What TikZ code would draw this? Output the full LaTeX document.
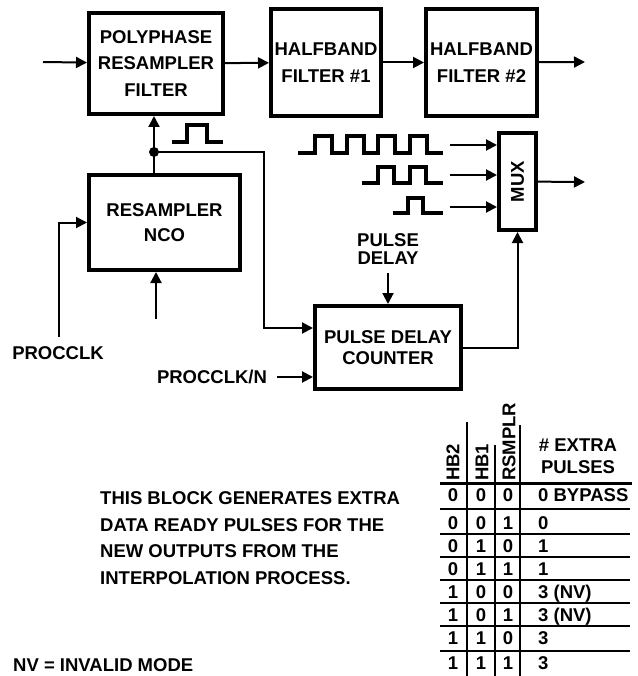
\documentclass[tikz,border=0pt]{standalone}
\usepackage{fontspec}
\setmainfont{Liberation Sans}
\usetikzlibrary{arrows.meta}

\begin{document}
\begin{tikzpicture}[x=1pt, y=-1pt,
        every node/.style={font=\fontsize{18.5}{26.5}\selectfont\bfseries, inner sep=0pt},
        block/.style={shape=rectangle, draw=black, line width=4pt, align=center},
        wire/.style={line width=2pt},
        arr/.style={wire, -{Triangle[length=11pt, width=11pt]}},
        wave/.style={line width=3.5pt, line join=miter},
        rule/.style={line width=1.5pt}]
        \useasboundingbox (0,0) rectangle (637,676);

        \node[block, minimum width=134pt, minimum height=101pt] (poly) at (156,63.5) {POLYPHASE\\RESAMPLER\\FILTER};
        \node[block, minimum width=110pt, minimum height=107pt] (hb1) at (326,62.5) {HALFBAND\\FILTER \#1};
        \node[block, minimum width=111pt, minimum height=107pt] (hb2) at (481.5,62.5) {HALFBAND\\FILTER \#2};
        \node[block, minimum width=151pt, minimum height=95pt] (nco) at (164.5,222.5) {RESAMPLER\\[-1pt]NCO};
        \node[block, minimum width=146pt, minimum height=83pt] (pdc) at (388,347.5) {PULSE DELAY\\[-5pt]COUNTER};
        \node[block, minimum width=37pt, minimum height=97pt] (mux) at (517.5,181.5) {\rotatebox{90}{MUX}};

        \node (pclk) at (58,353) {PROCCLK};
        \node (pclkn) at (212,377) {PROCCLK/N};
        \node[align=center] (pdelay) at (388,249) {PULSE\\[-8pt]DELAY};

        \coordinate (in) at (43,62);
        \coordinate (out) at (585,62);
        \coordinate (muxout) at (585,182);
        \coordinate (tap) at (154,152);
        \coordinate (bend) at (264,328);
        \coordinate (ncoin) at (156,319);
        \coordinate (clkin) at (59,337);
        \coordinate (clknin) at (277,377);
        \coordinate (pdin) at (388,273);
        \coordinate (w1) at (450,145);
        \coordinate (w2) at (450,175);
        \coordinate (w3) at (450,207);

        \draw[arr] (in) -- (poly);
        \draw[arr] (poly) -- (hb1);
        \draw[arr] (hb1) -- (hb2);
        \draw[arr] (hb2) -- (out);
        \draw[arr] (mux) -- (muxout);

        \draw[wire] (tap |- nco.north) -- (tap);
        \draw[arr] (tap) -- (tap |- poly.south);
        \fill (tap) circle[radius=5];
        \draw[arr] (tap) -| (bend) -- (bend -| pdc.west);
        \draw[arr] (clkin) |- (nco.west);
        \draw[arr] (ncoin) -- (ncoin |- nco.south);
        \draw[arr] (clknin) -- (clknin -| pdc.west);
        \draw[arr] (pdin) -- (pdc.north);
        \draw[arr] (pdc.east) -| (mux.south);
        \draw[arr] (w1) -- (w1 -| mux.west);
        \draw[arr] (w2) -- (w2 -| mux.west);
        \draw[arr] (w3) -- (w3 -| mux.west);

        \draw[wave] (172,142) -- (187,142) -- (187,125) -- (207,125) -- (207,142) -- (223,142);
        \draw[wave] (298,153) \foreach \u in {315,347,378,410} { -- (\u,153) -- (\u,136) -- (\u+17,136) -- (\u+17,153) } -- (443,153);
        \draw[wave] (362,183) \foreach \u in {378,410} { -- (\u,183) -- (\u,167) -- (\u+16,167) -- (\u+16,183) } -- (443,183);
        \draw[wave] (393,213) -- (408,213) -- (408,198) -- (423,198) -- (423,213) -- (443,213);

        \node[anchor=west, align=left, font=\fontsize{18.5}{26.7}\selectfont\bfseries] (note) at (100,538)
            {THIS BLOCK GENERATES EXTRA\\DATA READY PULSES FOR THE\\NEW OUTPUTS FROM THE\\INTERPOLATION PROCESS.};
        \node[anchor=base west] (nv) at (13,671) {NV = INVALID MODE};

        \node[anchor=south] (hhb2) at (453,481) {\rotatebox{90}{HB2}};
        \node[anchor=south] (hhb1) at (482,481) {\rotatebox{90}{HB1}};
        \node[anchor=south] (hrs) at (509,481) {\rotatebox{90}{RSMPLR}};
        \node[align=center] (hext) at (578,456) {\# EXTRA\\[-4pt]PULSES};

        \draw[rule] (467,422) -- (467,680);
        \draw[rule] (495,445) -- (495,680);
        \draw[rule] (520,425) -- (520,680);
        \draw[line width=3pt] (440,483) -- (632,483);
        \foreach \y in {509,534,557,580,603,626,651}
            \draw[rule] (440,\y) -- (630,\y);
        \foreach \a/\b/\c/\n/\y [count=\i] in {0/0/0/0 BYPASS/495, 0/0/1/0/523, 0/1/0/1/546, 0/1/1/1/569,
                1/0/0/3 (NV)/592, 1/0/1/3 (NV)/615, 1/1/0/3/638, 1/1/1/3/663} {
            \node[anchor=base] (ra\i) at (453,\y+6.5) {\a};
            \node[anchor=base] (rb\i) at (481,\y+6.5) {\b};
            \node[anchor=base] (rc\i) at (508,\y+6.5) {\c};
            \node[anchor=base west] (rn\i) at (538,\y+6.5) {\n};
        }
\end{tikzpicture}
\end{document}
